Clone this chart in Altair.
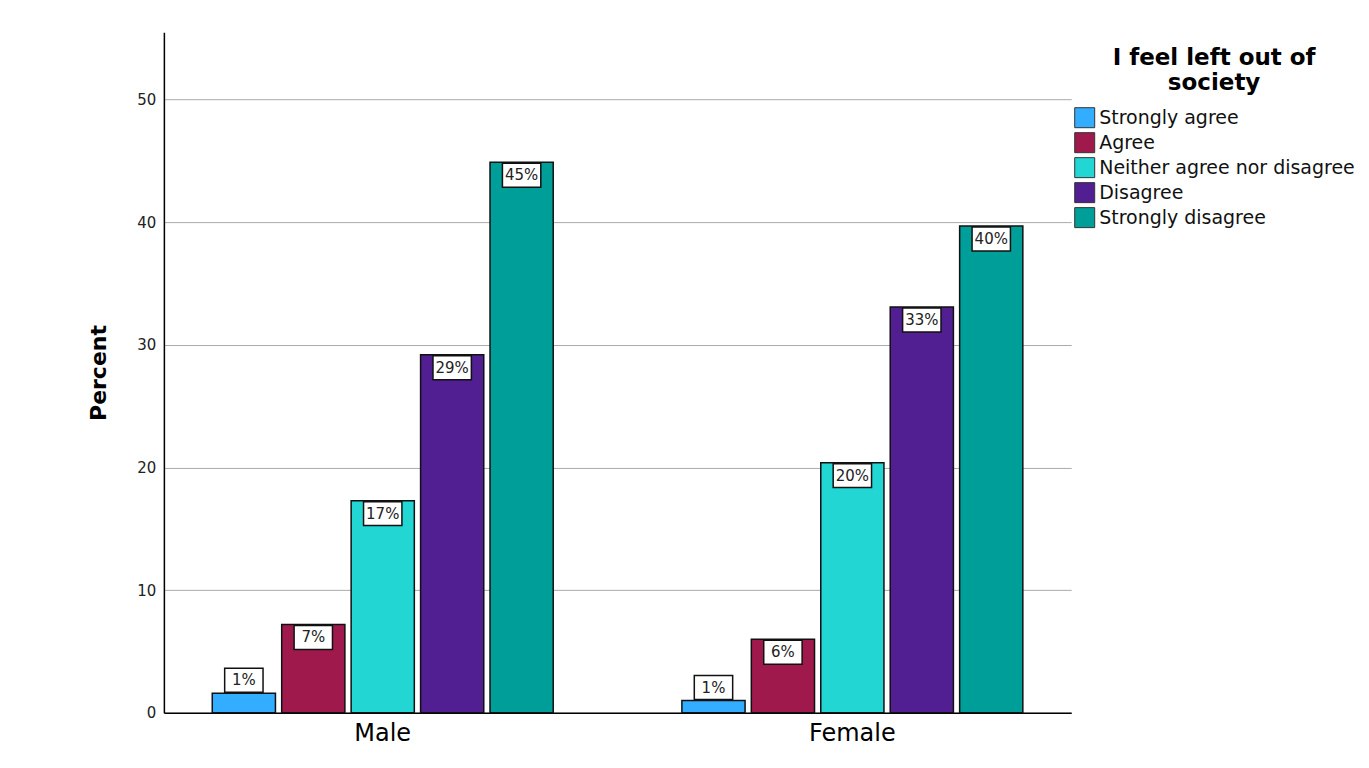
import altair as alt
import pandas as pd

genders = ["Male", "Female"]
responses = ["Strongly agree", "Agree", "Neither agree nor disagree", "Disagree", "Strongly disagree"]
male_pct = [1.6, 7.2, 17.3, 29.2, 44.9]
female_pct = [1.0, 6.0, 20.4, 33.1, 39.7]
labels_male = ["1%", "7%", "17%", "29%", "45%"]
labels_female = ["1%", "6%", "20%", "33%", "40%"]
colors = ["#33adff", "#a0194d", "#22d6d3", "#511f91", "#009e99"]

rows = []
for g, vals, labs in [("Male", male_pct, labels_male), ("Female", female_pct, labels_female)]:
    for r, v, l in zip(responses, vals, labs):
        rows.append({"Gender": g, "Response": r, "Percent": v, "Label": l})
df = pd.DataFrame(rows)

FONT = "DejaVu Sans"

x = alt.X("Gender:N", sort=genders,
          scale=alt.Scale(paddingInner=0.274, paddingOuter=0.103),
          axis=alt.Axis(title=None, labelAngle=0, labelFontSize=24, labelFont=FONT,
                        labelColor="#000", domainColor="#000", domainWidth=1.5,
                        ticks=False, labelPadding=9, grid=False))
xo = alt.XOffset("Response:N", sort=responses, scale=alt.Scale(paddingInner=0.09))
y = alt.Y("Percent:Q", scale=alt.Scale(domain=[0, 55.5], nice=False),
          axis=alt.Axis(title="Percent", values=[0, 10, 20, 30, 40, 50], titleFontSize=22,
                        titleFont=FONT, titleFontWeight="bold", titleColor="#000",
                        titlePadding=26, labelFontSize=15, labelFont=FONT, labelColor="#222",
                        ticks=False, labelPadding=8, domainColor="#000", domainWidth=1.5,
                        grid=True, gridColor="#aaaaaa", gridWidth=1))

color = alt.Color("Response:N", sort=responses,
                  scale=alt.Scale(domain=responses, range=colors),
                  legend=alt.Legend(title=["I feel left out of", "society"], orient="none",
                                    legendX=911, legendY=15,
                                    titleFontSize=23, titleFont=FONT, titleFontWeight="bold",
                                    titleColor="#000", titleAlign="center", titleAnchor="middle",
                                    titlePadding=12, titleLimit=500, titleLineHeight=25,
                                    labelFontSize=19, labelFont=FONT, labelColor="#111",
                                    symbolType="square", symbolSize=400, symbolStrokeColor="#333",
                                    symbolStrokeWidth=1, symbolOpacity=1, rowPadding=0,
                                    labelOffset=4, labelLimit=400))

bars = alt.Chart(df).mark_bar(stroke="#111", strokeWidth=1.5, opacity=1).encode(
    x=x, xOffset=xo, y=y, color=color)

box_shape = "M-1.6,-1H1.6V1H-1.6Z"
base = alt.Chart(df).encode(x=x, xOffset=xo, y=alt.Y("Percent:Q"))

inside = base.transform_filter("datum.Percent >= 3")
above = base.transform_filter("datum.Percent < 3")

box_in = inside.mark_point(shape=box_shape, size=576, filled=True, fill="white",
                           stroke="#111", strokeWidth=1.5, opacity=1, yOffset=13)
txt_in = inside.mark_text(font=FONT, fontSize=15, color="#222", yOffset=13,
                          baseline="middle").encode(text="Label:N")
box_ab = above.mark_point(shape=box_shape, size=576, filled=True, fill="white",
                          stroke="#111", strokeWidth=1.5, opacity=1, yOffset=-13)
txt_ab = above.mark_text(font=FONT, fontSize=15, color="#222", yOffset=-13,
                         baseline="middle").encode(text="Label:N")

chart = alt.layer(bars, box_in, txt_in, box_ab, txt_ab).properties(
    width=908, height=681,
    background="white",
    autosize=alt.AutoSizeParams(type="none"),
    padding={"left": 156, "top": 24, "right": 290, "bottom": 50},
).configure_view(stroke=None, strokeWidth=0)

chart.save("out.html", embed_options={"renderer": "svg", "actions": False})
